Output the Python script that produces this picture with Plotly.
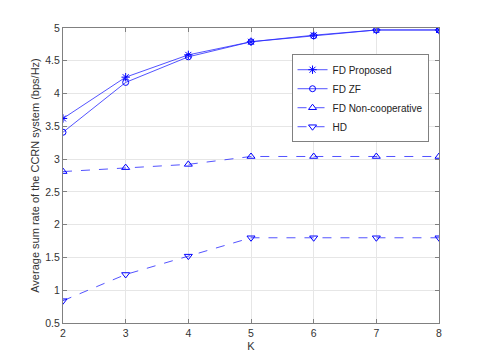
import plotly.graph_objects as go

K = [2, 3, 4, 5, 6, 7, 8]
fd_proposed = [3.62, 4.25, 4.59, 4.79, 4.89, 4.97, 4.97]
fd_zf = [3.41, 4.17, 4.56, 4.79, 4.88, 4.97, 4.97]
fd_noncoop = [2.81, 2.87, 2.92, 3.04, 3.04, 3.04, 3.04]
hd = [0.84, 1.24, 1.52, 1.80, 1.80, 1.80, 1.80]

line_col = "rgba(40,40,255,0.8)"
mk_col = "#0000ff"

fig = go.Figure()
series = [
    ("FD Proposed", fd_proposed, "asterisk-open", "solid", 7),
    ("FD ZF", fd_zf, "circle-open", "solid", 6),
    ("FD Non-cooperative", fd_noncoop, "triangle-up-open", "dash", 7),
    ("HD", hd, "triangle-down-open", "dash", 7),
]
for name, vals, sym, dash, size in series:
    fig.add_trace(go.Scatter(
        x=K, y=vals, name=name, mode="lines+markers",
        line=dict(color=line_col, width=1, dash=dash),
        marker=dict(symbol=sym, size=size, color=mk_col, line=dict(width=1, color=mk_col)),
    ))

axis_common = dict(
    showline=True, linecolor="#808080", linewidth=1, mirror="ticks",
    ticks="inside", ticklen=4, tickcolor="#808080",
    showgrid=True, gridcolor="#e6e6e6", gridwidth=1, zeroline=False,
    tickfont=dict(size=10.5, color="#333333"),
)

# page body has an 8px margin, so the figure is offset by 8px right and down
fig.update_layout(
    width=485, height=363,
    margin=dict(l=55, r=54, t=20, b=48),
    paper_bgcolor="white", plot_bgcolor="white",
    font=dict(family="Liberation Sans, Arial, sans-serif", size=10, color="#333333"),
    showlegend=True,
    legend=dict(
        x=0.79, y=0.762, xanchor="center", yanchor="middle",
        bgcolor="white", bordercolor="#808080", borderwidth=1,
        font=dict(size=10, color="#222222"), tracegroupgap=0, itemwidth=30,
    ),
    xaxis=dict(range=[2, 8], dtick=1, title=dict(text="K", font=dict(size=11), standoff=4), **axis_common),
    yaxis=dict(range=[0.5, 5], dtick=0.5,
               title=dict(text="Average sum rate of the CCRN system (bps/Hz)", font=dict(size=11), standoff=3),
               **axis_common),
)

fig.write_html("out.html")
